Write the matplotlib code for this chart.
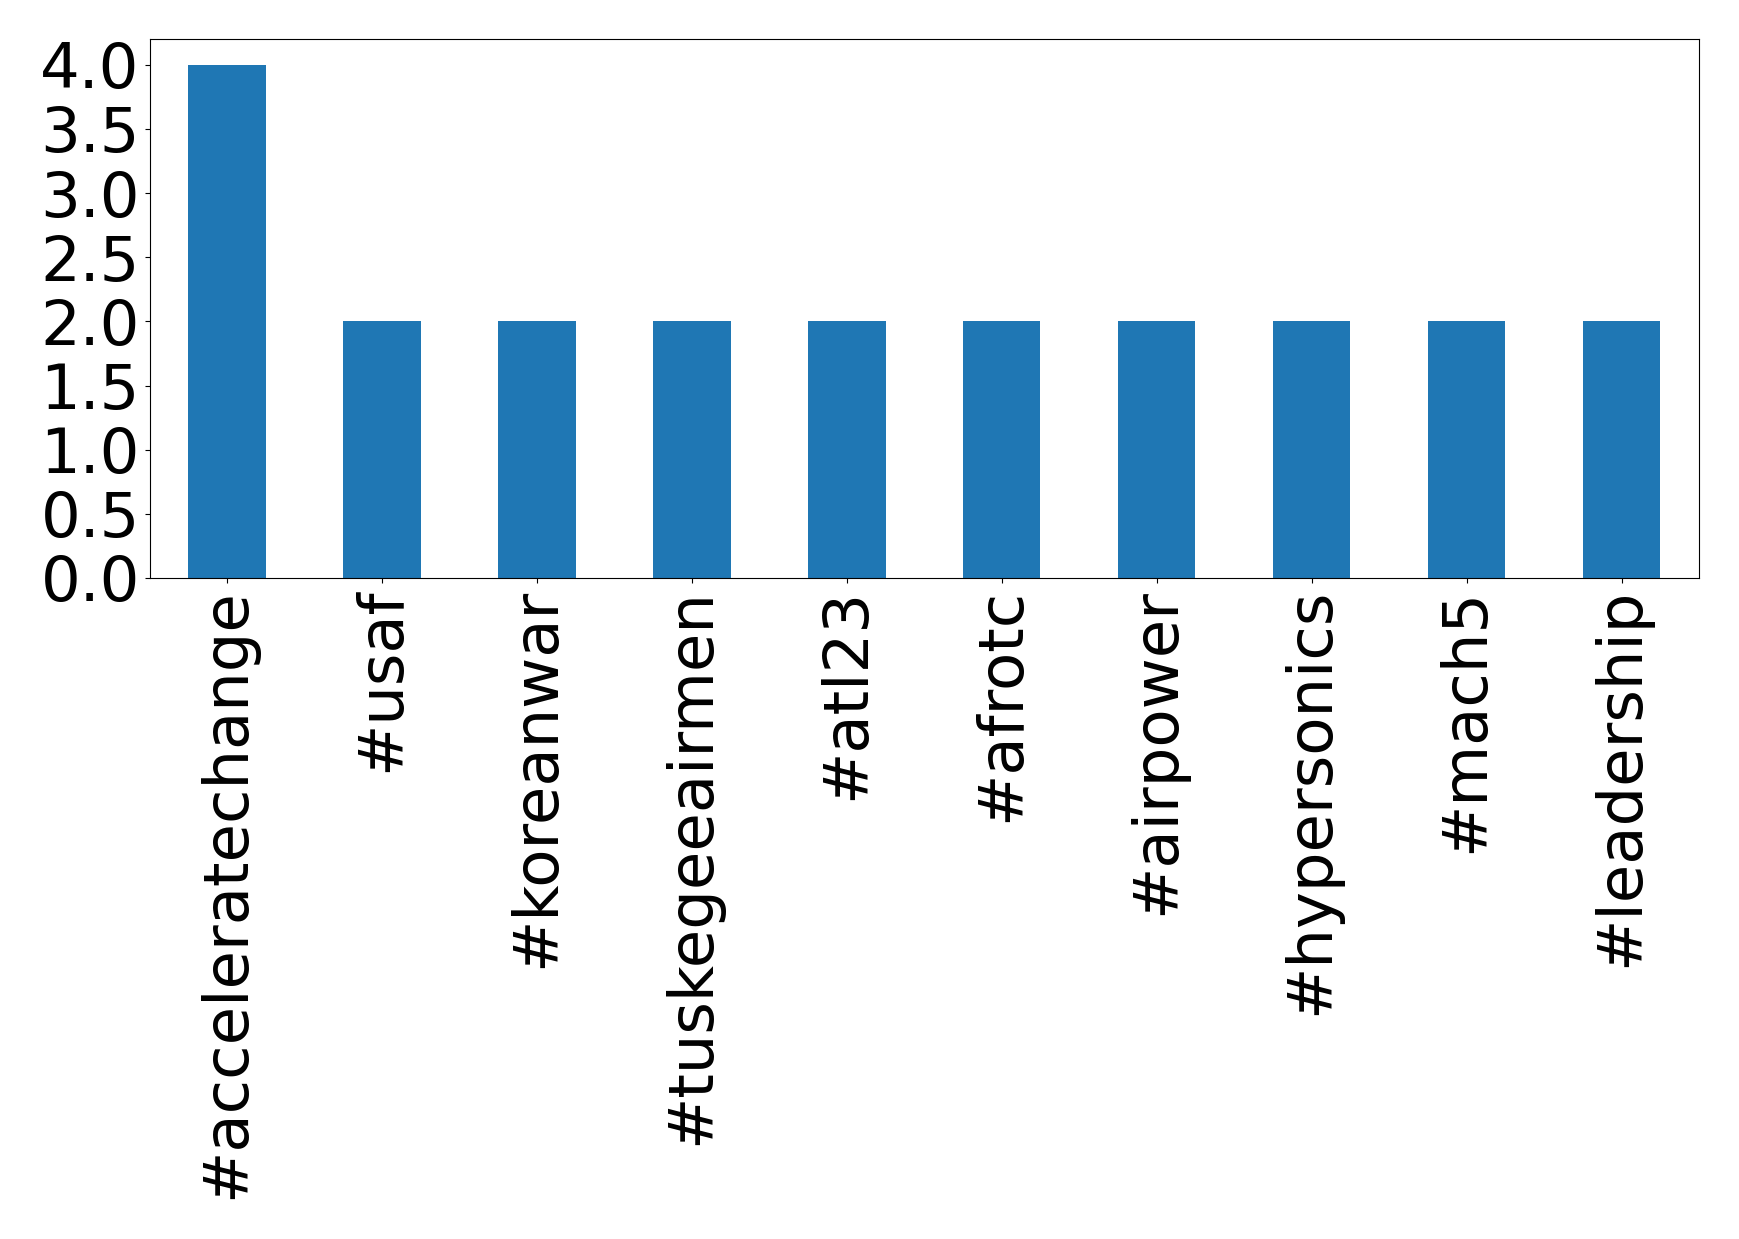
import matplotlib
matplotlib.use("Agg")
import matplotlib.pyplot as plt

categories = ["#acceleratechange", "#usaf", "#koreanwar", "#tuskegeeairmen", "#atl23",
              "#afrotc", "#airpower", "#hypersonics", "#mach5", "#leadership"]
values = [4, 2, 2, 2, 2, 2, 2, 2, 2, 2]
yticks = [0.0, 0.5, 1.0, 1.5, 2.0, 2.5, 3.0, 3.5, 4.0]

fig = plt.figure(figsize=(17.39, 12.39), dpi=100)
ax = fig.add_axes([149.5/1739, 1 - 578/1239, (1699-149.5)/1739, (578-39)/1239])
x = list(range(len(categories)))
ax.bar(x, values, width=0.5, color="#1f77b4")
ax.set_xlim(-0.5, len(categories) - 0.5)
ax.set_ylim(0, 4.2)
ax.set_yticks(yticks)
ax.set_yticklabels([f"{t:.1f}" for t in yticks])
ax.set_xticks(x)
ax.set_xticklabels(categories, rotation=90)
ax.tick_params(labelsize=45)
fig.savefig("out.png", dpi=100)
